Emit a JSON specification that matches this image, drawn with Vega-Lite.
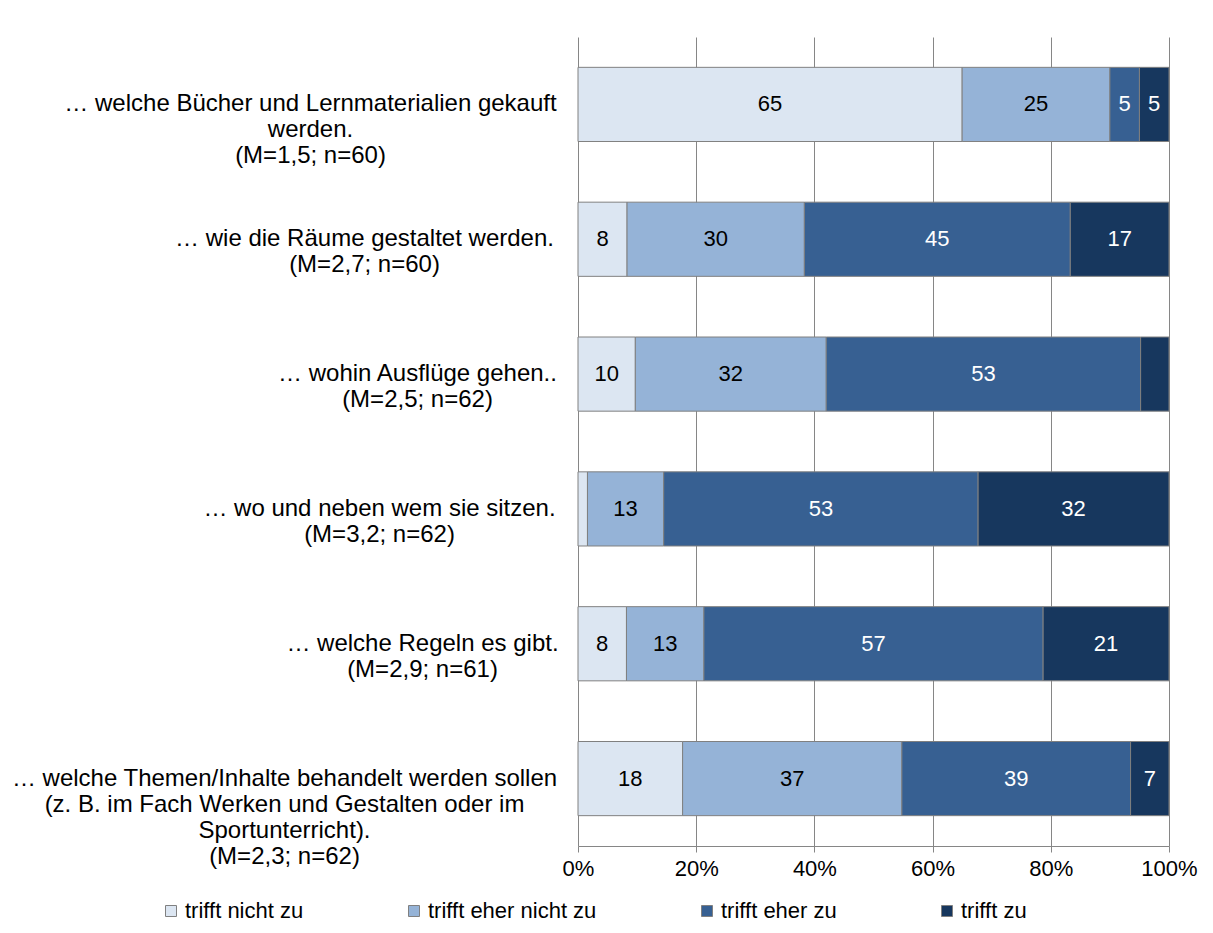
{
  "$schema": "https://vega.github.io/schema/vega-lite/v6.json",
  "width": 591,
  "height": 809,
  "autosize": "none",
  "padding": {"left": 578, "top": 37, "right": 44, "bottom": 87},
  "background": "white",
  "config": {"view": {"stroke": null}, "font": "Liberation Sans"},
  "data": {
    "values": [
      {"q": "… welche Bücher und Lernmaterialien gekauft|werden.|(M=1,5; n=60)", "r": "trifft nicht zu", "k": 0, "v": 65.0},
      {"q": "… welche Bücher und Lernmaterialien gekauft|werden.|(M=1,5; n=60)", "r": "trifft eher nicht zu", "k": 1, "v": 25.0},
      {"q": "… welche Bücher und Lernmaterialien gekauft|werden.|(M=1,5; n=60)", "r": "trifft eher zu", "k": 2, "v": 5.0},
      {"q": "… welche Bücher und Lernmaterialien gekauft|werden.|(M=1,5; n=60)", "r": "trifft zu", "k": 3, "v": 5.0},
      {"q": "… wie die Räume gestaltet werden.|(M=2,7; n=60)", "r": "trifft nicht zu", "k": 0, "v": 8.3},
      {"q": "… wie die Räume gestaltet werden.|(M=2,7; n=60)", "r": "trifft eher nicht zu", "k": 1, "v": 30.0},
      {"q": "… wie die Räume gestaltet werden.|(M=2,7; n=60)", "r": "trifft eher zu", "k": 2, "v": 45.0},
      {"q": "… wie die Räume gestaltet werden.|(M=2,7; n=60)", "r": "trifft zu", "k": 3, "v": 16.7},
      {"q": "… wohin Ausflüge gehen..|(M=2,5; n=62)", "r": "trifft nicht zu", "k": 0, "v": 9.7},
      {"q": "… wohin Ausflüge gehen..|(M=2,5; n=62)", "r": "trifft eher nicht zu", "k": 1, "v": 32.3},
      {"q": "… wohin Ausflüge gehen..|(M=2,5; n=62)", "r": "trifft eher zu", "k": 2, "v": 53.2},
      {"q": "… wohin Ausflüge gehen..|(M=2,5; n=62)", "r": "trifft zu", "k": 3, "v": 4.8},
      {"q": "…  wo und neben wem sie sitzen.|(M=3,2; n=62)", "r": "trifft nicht zu", "k": 0, "v": 1.6},
      {"q": "…  wo und neben wem sie sitzen.|(M=3,2; n=62)", "r": "trifft eher nicht zu", "k": 1, "v": 12.9},
      {"q": "…  wo und neben wem sie sitzen.|(M=3,2; n=62)", "r": "trifft eher zu", "k": 2, "v": 53.2},
      {"q": "…  wo und neben wem sie sitzen.|(M=3,2; n=62)", "r": "trifft zu", "k": 3, "v": 32.3},
      {"q": "… welche Regeln es gibt.|(M=2,9; n=61)", "r": "trifft nicht zu", "k": 0, "v": 8.2},
      {"q": "… welche Regeln es gibt.|(M=2,9; n=61)", "r": "trifft eher nicht zu", "k": 1, "v": 13.1},
      {"q": "… welche Regeln es gibt.|(M=2,9; n=61)", "r": "trifft eher zu", "k": 2, "v": 57.4},
      {"q": "… welche Regeln es gibt.|(M=2,9; n=61)", "r": "trifft zu", "k": 3, "v": 21.3},
      {"q": "… welche Themen/Inhalte behandelt werden sollen|(z. B. im Fach Werken und Gestalten oder im|Sportunterricht).|(M=2,3; n=62)", "r": "trifft nicht zu", "k": 0, "v": 17.7},
      {"q": "… welche Themen/Inhalte behandelt werden sollen|(z. B. im Fach Werken und Gestalten oder im|Sportunterricht).|(M=2,3; n=62)", "r": "trifft eher nicht zu", "k": 1, "v": 37.1},
      {"q": "… welche Themen/Inhalte behandelt werden sollen|(z. B. im Fach Werken und Gestalten oder im|Sportunterricht).|(M=2,3; n=62)", "r": "trifft eher zu", "k": 2, "v": 38.7},
      {"q": "… welche Themen/Inhalte behandelt werden sollen|(z. B. im Fach Werken und Gestalten oder im|Sportunterricht).|(M=2,3; n=62)", "r": "trifft zu", "k": 3, "v": 6.5}
    ]
  },
  "transform": [
    {"stack": "v", "groupby": ["q"], "sort": [{"field": "k", "order": "ascending"}], "as": ["x0", "x1"]},
    {"calculate": "(datum.x0 + datum.x1) / 2", "as": "xm"}
  ],
  "encoding": {
    "y": {
      "field": "q",
      "type": "nominal",
      "sort": null,
      "scale": {"paddingInner": 0.45, "paddingOuter": 0.225},
      "axis": {
        "title": null,
        "domain": false,
        "ticks": false,
        "grid": false,
        "labelAlign": "center",
        "labelBaseline": "middle",
        "labelFontSize": 24,
        "labelLineHeight": 26,
        "labelColor": "black",
        "labelLimit": 0,
        "labelExpr": "split(datum.label, '|')",
        "labelPadding": {
          "condition": [
            {"test": "indexof(datum.value, 'Bücher') >= 0", "value": 268},
            {"test": "indexof(datum.value, 'Räume') >= 0", "value": 214},
            {"test": "indexof(datum.value, 'Ausflüge') >= 0", "value": 161},
            {"test": "indexof(datum.value, 'sitzen') >= 0", "value": 199},
            {"test": "indexof(datum.value, 'Regeln') >= 0", "value": 156}
          ],
          "value": 294
        }
      }
    }
  },
  "layer": [
    {
      "mark": {"type": "bar", "stroke": "#808080", "strokeWidth": 1},
      "encoding": {
        "x": {
          "field": "x0",
          "type": "quantitative",
          "scale": {"domain": [0, 100], "nice": false},
          "axis": {
            "title": null,
            "values": [0, 20, 40, 60, 80, 100],
            "labelExpr": "datum.value + '%'",
            "grid": true,
            "gridColor": "#868686",
            "gridWidth": 1,
            "domainColor": "#868686",
            "tickColor": "#868686",
            "tickSize": 6,
            "labelFontSize": 22,
            "labelColor": "black",
            "labelPadding": 6,
            "labelFlush": false
          }
        },
        "x2": {"field": "x1"},
        "color": {
          "field": "r",
          "type": "nominal",
          "sort": ["trifft nicht zu", "trifft eher nicht zu", "trifft eher zu", "trifft zu"],
          "scale": {
            "domain": ["trifft nicht zu", "trifft eher nicht zu", "trifft eher zu", "trifft zu"],
            "range": ["#DCE6F2", "#95B3D7", "#376092", "#17375E"]
          },
          "legend": {
            "title": null,
            "orient": "none",
            "direction": "horizontal",
            "legendX": -418,
            "legendY": 863,
            "columnPadding": 99,
            "symbolType": "square",
            "symbolSize": 121,
            "symbolStrokeColor": "#808080",
            "symbolStrokeWidth": 1,
            "labelFontSize": 22,
            "labelColor": "black",
            "labelOffset": 3,
            "labelLimit": 0
          }
        }
      }
    },
    {
      "transform": [{"filter": "datum.v >= 5"}],
      "mark": {"type": "text", "fontSize": 22, "baseline": "middle", "align": "center"},
      "encoding": {
        "x": {"field": "xm", "type": "quantitative"},
        "text": {"field": "v", "type": "quantitative", "format": ".0f"},
        "color": {"condition": {"test": "datum.k >= 2", "value": "white"}, "value": "black"}
      }
    }
  ]
}
